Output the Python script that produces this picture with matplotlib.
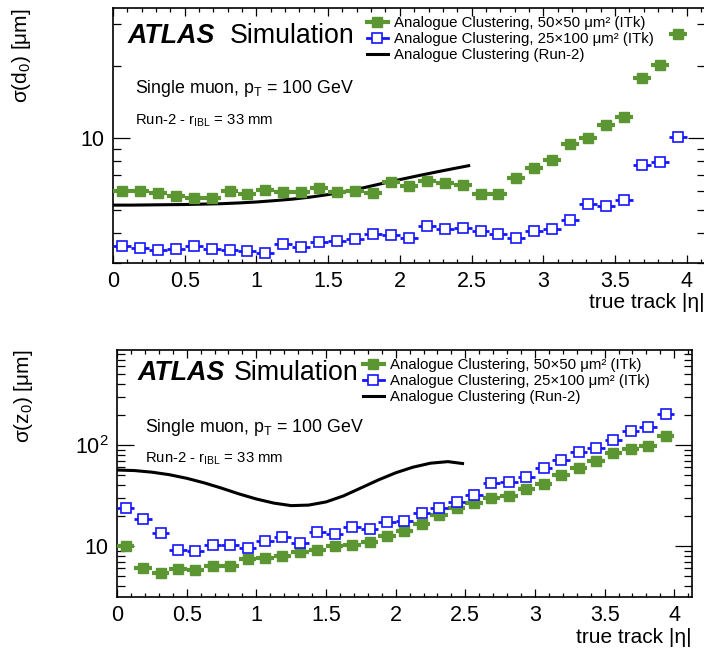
import numpy as np
import matplotlib
matplotlib.use('Agg')
import matplotlib.pyplot as plt
from matplotlib.lines import Line2D
from matplotlib.ticker import FixedLocator, MultipleLocator, FuncFormatter

plt.rcParams['font.family'] = ['Liberation Sans', 'DejaVu Sans']
plt.rcParams['mathtext.fontset'] = 'custom'
plt.rcParams['mathtext.rm'] = 'Liberation Sans'
plt.rcParams['mathtext.it'] = 'Liberation Sans:italic'
plt.rcParams['mathtext.bf'] = 'Liberation Sans:bold'

#====================================
# (1) Data
#====================================
# |eta| bins of width 0.125
eta = np.arange(0.0625, 4.0, 0.125)
half_bin = 0.0625

d0_50x50 = [6.03, 6.03, 5.88, 5.73, 5.61, 5.61, 6.01, 5.84, 6.07, 5.92, 5.92, 6.15,
            5.94, 5.98, 5.88, 6.52, 6.31, 6.64, 6.51, 6.35, 5.84, 5.84, 6.81, 7.48,
            8.10, 9.44, 10.03, 11.33, 12.27, 17.78, 20.3, 27.3]
d0_25x100 = [3.55, 3.47, 3.41, 3.44, 3.52, 3.44, 3.39, 3.37, 3.29, 3.61, 3.50, 3.68,
             3.70, 3.78, 3.98, 3.93, 3.81, 4.27, 4.17, 4.22, 4.07, 3.98, 3.83, 4.10,
             4.17, 4.52, 5.31, 5.21, 5.52, 7.69, 7.97, 10.07]

z0_50x50 = [9.93, 6.04, 5.39, 5.94, 5.81, 6.31, 6.41, 7.45, 7.57, 7.93, 8.79, 9.14,
            9.93, 10.3, 11.0, 12.6, 13.95, 16.7, 20.3, 23.6, 26.5, 29.6, 31.2, 36.3,
            40.7, 49.9, 59.4, 69.0, 83.4, 91.4, 98.5, 121.6]
z0_25x100 = [23.6, 18.4, 13.6, 9.2, 9.0, 10.3, 10.2, 9.56, 11.3, 12.2, 10.7, 13.8,
             13.2, 15.5, 14.9, 17.3, 17.5, 21.4, 24.0, 27.5, 31.9, 41.6, 42.9, 48.0,
             59.4, 70.6, 84.6, 93.4, 112.7, 136.0, 149.0, 202.0]

# Run-2 curves
run2_eta = [0.0, 0.125, 0.25, 0.375, 0.5, 0.625, 0.75, 0.875, 1.0, 1.125, 1.25,
            1.375, 1.5, 1.625, 1.75, 1.875, 2.0, 2.125, 2.25, 2.375, 2.48]
run2_d0 = [5.24, 5.24, 5.25, 5.26, 5.27, 5.29, 5.31, 5.35, 5.40, 5.47, 5.55,
           5.66, 5.80, 5.99, 6.20, 6.45, 6.70, 6.95, 7.20, 7.45, 7.66]
run2_z0 = [56.5, 55.8, 53.8, 50.8, 46.8, 42.2, 37.4, 32.8, 29.2, 26.6, 25.1,
           25.4, 27.3, 31.3, 37.5, 45.0, 53.0, 60.3, 66.0, 68.4, 65.5]

labels = ['Analogue Clustering, 50×50 μm² (ITk)',
          'Analogue Clustering, 25×100 μm² (ITk)',
          'Analogue Clustering (Run-2)']

green = '#5b9632'
blue = '#1515ff'

#====================================
# (2) Plot
#====================================
fig = plt.figure(figsize=(7.04, 6.48), dpi=100)
ax1 = fig.add_axes([113/704, 1 - 263/648, 591.6/704, 255/648])
ax2 = fig.add_axes([117/704, 1 - 597/648, 574.7/704, 247/648])


def draw_panel(ax, y_50, y_25, y_run2, ylim, majors, minors, ylab, txt):
    ax.errorbar(eta, y_50, xerr=half_bin, fmt='s', color=green, mec=green,
                ms=7, elinewidth=3, capsize=0, zorder=3)
    ax.errorbar(eta, y_25, xerr=half_bin, fmt='s', color=blue, mec=blue,
                mfc='white', mew=1.2, ms=7, elinewidth=2, capsize=0, zorder=3)
    ax.plot(run2_eta, y_run2, color='black', lw=2.2, zorder=2)

    ax.set_yscale('log')
    ax.set_xlim(0, 4.125)
    ax.set_ylim(*ylim)
    ax.yaxis.set_major_locator(FixedLocator(majors))
    ax.yaxis.set_minor_locator(FixedLocator(minors))
    ax.yaxis.set_major_formatter(FuncFormatter(
        lambda v, p: '10' if v == 10 else r'10$^{%d}$' % round(np.log10(v))))
    ax.yaxis.set_minor_formatter(FuncFormatter(lambda v, p: ''))
    ax.xaxis.set_major_locator(MultipleLocator(0.5))
    ax.xaxis.set_minor_locator(MultipleLocator(0.1))
    ax.xaxis.set_major_formatter(FuncFormatter(lambda v, p: '%g' % v))

    ax.tick_params(which='both', direction='in', top=True, right=True,
                   labelsize=15.5, width=0.9)
    ax.tick_params(axis='x', which='major', length=6, pad=6)
    ax.tick_params(axis='x', which='minor', length=3)
    ax.tick_params(axis='y', which='major', length=12, pad=6)
    ax.tick_params(axis='y', which='minor', length=6)
    for s in ax.spines.values():
        s.set_linewidth(1.2)

    ax.set_xlabel('true track |η|', fontsize=15, loc='right')
    ax.set_ylabel(ylab, fontsize=15, loc='top')

    # ATLAS label and annotations
    ax.text(txt['atlas'][0], txt['atlas'][1], 'ATLAS', transform=ax.transAxes,
            fontsize=19.3, fontweight='bold', fontstyle='italic', va='baseline')
    ax.text(txt['sim'], txt['atlas'][1], 'Simulation', transform=ax.transAxes,
            fontsize=19.3, va='baseline')
    ax.text(txt['atlas'][0] + 0.012, txt['muon'],
            r'Single muon, p$_{\mathrm{T}}$ = 100 GeV', transform=ax.transAxes,
            fontsize=12.8, va='baseline')
    ax.text(txt['atlas'][0] + 0.012, txt['run2'],
            r'Run-2 - r$_{\mathrm{IBL}}$ = 33 mm', transform=ax.transAxes,
            fontsize=10.7, va='baseline')

    handles = [Line2D([0], [0], color=green, marker='s', ms=7, lw=3),
               Line2D([0], [0], color=blue, marker='s', ms=7, mfc='white',
                      mew=1.2, lw=2),
               Line2D([0], [0], color='black', lw=2.2)]
    ax.legend(handles, labels, loc='upper left', bbox_to_anchor=txt['leg'],
              frameon=False, fontsize=10.8, handlelength=1.4, handletextpad=0.4,
              labelspacing=0.13, borderpad=0, borderaxespad=0)


draw_panel(ax1, d0_50x50, d0_25x100, run2_d0, (3.0, 35.0), [10],
           [3, 4, 5, 6, 7, 8, 9, 20, 30], r'σ(d$_{0}$) [μm]',
           {'atlas': (0.025, 0.864), 'sim': 0.198, 'muon': 0.668,
            'run2': 0.541, 'leg': (0.429, 0.967)})
ax1.yaxis.set_label_coords(-0.135, 1.0)
ax1.xaxis.set_label_coords(1.0, -0.118)

draw_panel(ax2, z0_50x50, z0_25x100, run2_z0, (3.13, 870.0), [10, 100],
           [4, 5, 6, 7, 8, 9, 20, 30, 40, 50, 60, 70, 80, 90,
            200, 300, 400, 500, 600, 700, 800], r'σ(z$_{0}$) [μm]',
           {'atlas': (0.0365, 0.879), 'sim': 0.2025, 'muon': 0.669,
            'run2': 0.544, 'leg': (0.428, 0.967)})
ax2.yaxis.set_label_coords(-0.143, 1.0)
ax2.xaxis.set_label_coords(1.0, -0.1255)

fig.savefig('out.png', dpi=100)
